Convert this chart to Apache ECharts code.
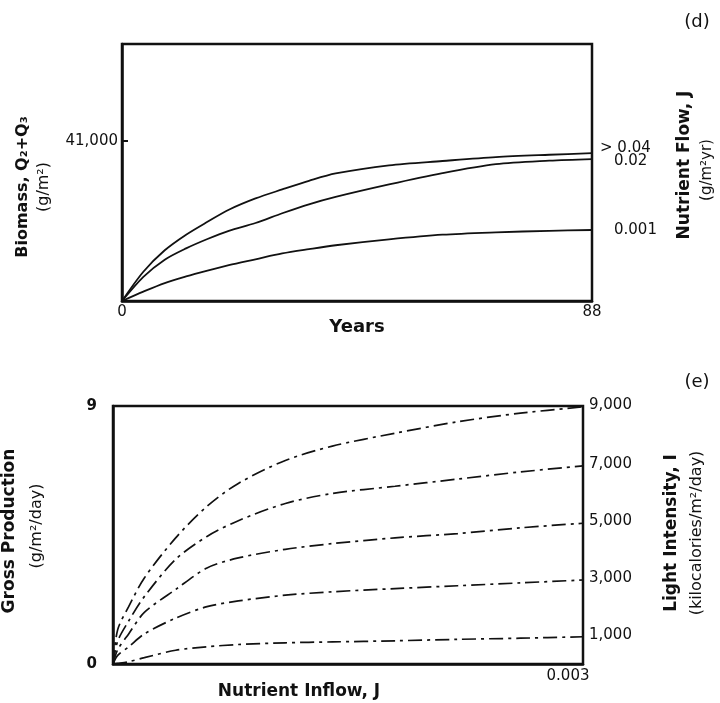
<!DOCTYPE html>
<html>
<head>
<meta charset="utf-8">
<script src="https://cdn.jsdelivr.net/npm/echarts@6/dist/echarts.min.js"></script>
<style>
  html, body { margin: 0; background: #fff; }
  #chart { width: 720px; height: 703px; }
</style>
</head>
<body>
<div id="chart"></div>
<script>
// (d) biomass vs years, one curve per nutrient flow
const years = [0, 4, 8, 12, 16, 20, 25, 30, 35, 40, 50, 60, 70, 80, 88]
const biomassJ004 = [0, 7500, 13000, 17000, 20300, 23400, 26300, 28600, 30800, 32700, 34800, 35900, 36900, 37500, 37900]
const biomassJ002 = [0, 6200, 10600, 13500, 15900, 18000, 20000, 22500, 24800, 26700, 29900, 32800, 35100, 36000, 36400]
const biomassJ0001 = [0, 2400, 4600, 6300, 7800, 9200, 10700, 12200, 13300, 14300, 15800, 17000, 17600, 18000, 18200]
const flowLabels = ['> 0.04', '0.02', '0.001']

// (e) gross production vs nutrient inflow, one curve per light intensity
const inflow = [0, 0.00003, 0.0001, 0.0002, 0.0004, 0.0006, 0.0008, 0.0011, 0.0014, 0.0018, 0.0022, 0.0026, 0.003]
const gp9000 = [0, 1.2, 2.0, 3.0, 4.4, 5.5, 6.3, 7.1, 7.6, 8.05, 8.45, 8.75, 8.97]
const gp7000 = [0, 0.8, 1.5, 2.35, 3.65, 4.45, 5.0, 5.6, 5.95, 6.2, 6.45, 6.7, 6.91]
const gp5000 = [0, 0.5, 1.05, 1.8, 2.6, 3.35, 3.7, 4.0, 4.2, 4.4, 4.55, 4.75, 4.91]
const gp3000 = [0, 0.3, 0.6, 1.05, 1.6, 2.0, 2.2, 2.4, 2.52, 2.63, 2.73, 2.83, 2.93]
const gp1000 = [0, 0.02, 0.08, 0.22, 0.48, 0.6, 0.68, 0.74, 0.77, 0.81, 0.86, 0.9, 0.95]
const lightLabels = ['9,000', '7,000', '5,000', '3,000', '1,000']

const INK = '#111'
const NUM_FONT = 'DejaVu Sans'
const pair = (xs, ys) => xs.map((x, i) => [x, ys[i]])

const topSeries = [biomassJ004, biomassJ002, biomassJ0001].map((arr, i) => ({
  type: 'line',
  xAxisIndex: 0,
  yAxisIndex: 0,
  data: pair(years, arr),
  showSymbol: false,
  smooth: 0.3,
  lineStyle: { color: INK, width: 1.8 },
  endLabel: {
    show: true,
    formatter: flowLabels[i],
    color: INK,
    fontFamily: NUM_FONT,
    fontSize: 15,
    distance: i === 0 ? 8 : 22,
    offset: [0, i === 0 ? -5 : i === 1 ? 2 : 0]
  },
  silent: true
}))

const bottomSeries = [gp9000, gp7000, gp5000, gp3000, gp1000].map((arr, i) => ({
  type: 'line',
  xAxisIndex: 1,
  yAxisIndex: 1,
  data: pair(inflow, arr),
  showSymbol: false,
  smooth: 0.3,
  lineStyle: { color: INK, width: 1.7, type: [14, 5, 3, 5] },
  endLabel: {
    show: true,
    formatter: lightLabels[i],
    color: INK,
    fontFamily: NUM_FONT,
    fontSize: 15,
    distance: 6,
    offset: [0, -2]
  },
  silent: true
}))

const axisLine = { show: true, onZero: false, lineStyle: { color: INK, width: 2.5 } }
const numLabel = { color: INK, fontFamily: NUM_FONT, fontSize: 15 }

const vText = (x, y, text, bold, size) => ({
  type: 'text',
  x: x,
  y: y,
  rotation: Math.PI / 2,
  style: {
    text: text,
    fill: INK,
    font: (bold ? 'bold ' : '') + size + 'px "DejaVu Sans"',
    align: 'center',
    verticalAlign: 'middle'
  }
})
const hText = (x, y, text, bold, size) => ({
  type: 'text',
  x: x,
  y: y,
  style: {
    text: text,
    fill: INK,
    font: (bold ? 'bold ' : '') + size + 'px "DejaVu Sans"',
    align: 'center',
    verticalAlign: 'middle'
  }
})

const chart = echarts.init(document.getElementById('chart'))
chart.setOption({
  animation: false,
  backgroundColor: '#fff',
  grid: [
    { left: 122, right: 128, top: 44, height: 257, show: true, borderColor: INK, borderWidth: 2.5 },
    { left: 113, right: 137, top: 406, height: 258, show: true, borderColor: INK, borderWidth: 2.5 }
  ],
  xAxis: [
    {
      gridIndex: 0, type: 'value', min: 0, max: 88,
      axisLine: axisLine, axisTick: { show: false }, splitLine: { show: false },
      axisLabel: Object.assign({ customValues: [0, 88], margin: 4 }, numLabel)
    },
    {
      gridIndex: 1, type: 'value', min: 0, max: 0.003,
      axisLine: axisLine, axisTick: { show: false }, splitLine: { show: false },
      axisLabel: Object.assign({ customValues: [0.003], margin: 5, formatter: v => v.toFixed(3), padding: [0, 30, 0, 0] }, numLabel)
    }
  ],
  yAxis: [
    {
      gridIndex: 0, type: 'value', min: 0, max: 65900,
      axisLine: axisLine, splitLine: { show: false },
      axisTick: { show: true, inside: true, length: 6, customValues: [41000], lineStyle: { color: INK, width: 2 } },
      axisLabel: Object.assign({ customValues: [41000], margin: 4, formatter: v => v.toLocaleString('en-US') }, numLabel)
    },
    {
      gridIndex: 1, type: 'value', min: 0, max: 9,
      axisLine: axisLine, axisTick: { show: false }, splitLine: { show: false },
      axisLabel: Object.assign({ customValues: [0, 9], margin: 16, fontWeight: 'bold' }, numLabel)
    }
  ],
  series: topSeries.concat(bottomSeries),
  graphic: [
    hText(697, 22, '(d)', false, 18),
    hText(697, 382, '(e)', false, 18),
    hText(357, 327, 'Years', true, 18),
    hText(299, 692, 'Nutrient Inflow, J', true, 17),
    vText(23, 187, 'Biomass, Q\u2082+Q\u2083', true, 16),
    vText(44, 187, '(g/m\u00b2)', false, 16),
    vText(685, 165, 'Nutrient Flow, J', true, 17),
    vText(707, 170, '(g/m\u00b2yr)', false, 15),
    vText(10, 531, 'Gross Production', true, 17),
    vText(37, 526, '(g/m\u00b2/day)', false, 16),
    vText(672, 533, 'Light Intensity, I', true, 17),
    vText(697, 533, '(kilocalories/m\u00b2/day)', false, 16)
  ]
})
</script>
</body>
</html>
